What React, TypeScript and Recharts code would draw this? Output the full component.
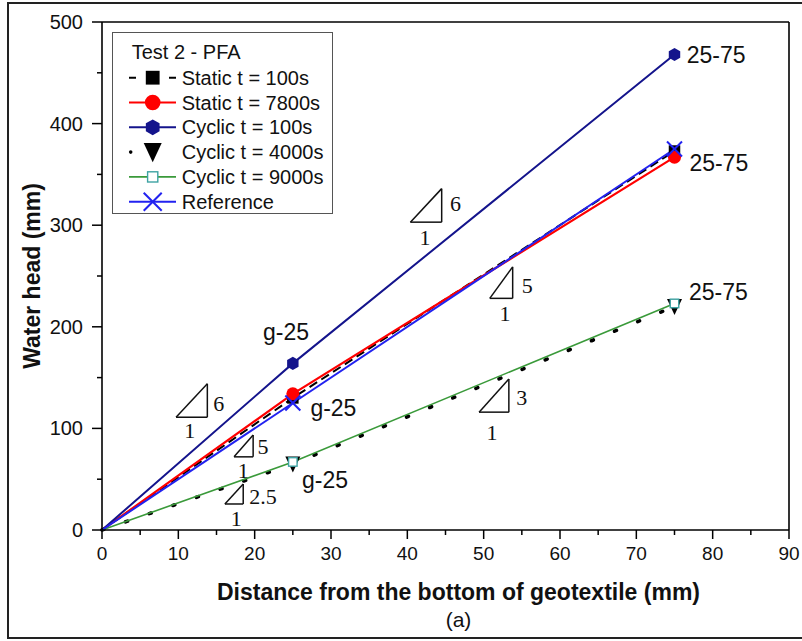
import React from "react";
import {
  LineChart,
  Line,
  XAxis,
  YAxis,
  Legend,
  ReferenceLine,
  ReferenceDot,
} from "recharts";

// distance from bottom of geotextile (mm)
const distance = [0, 25, 75];
// water head (mm)
const staticT100 = [0, 130, 373];
const staticT7800 = [0, 134, 367];
const cyclicT100 = [0, 164, 468];
const cyclicT4000 = [0, 65, 220];
const cyclicT9000 = [0, 67, 223];
const referenceLine = [0, 125, 375];

const xTicks = [0, 5, 10, 15, 20, 25, 30, 35, 40, 45, 50, 55, 60, 65, 70, 75, 80, 85, 90];
const yTicks = [0, 50, 100, 150, 200, 250, 300, 350, 400, 450, 500];

const SANS = "'Liberation Sans', Arial, sans-serif";
const SERIF = "'Liberation Serif', 'Times New Roman', serif";

const data = distance.map((d, i) => ({
  d,
  s100: staticT100[i],
  s7800: staticT7800[i],
  c100: cyclicT100[i],
  c4000: cyclicT4000[i],
  c9000: cyclicT9000[i],
  ref: referenceLine[i],
}));

type MarkerType = "square" | "circle" | "hexagon" | "triangleDown" | "openSquare" | "cross";

const series: {
  key: string;
  name: string;
  color: string;
  width: number;
  dash?: string;
  marker: MarkerType;
}[] = [
  { key: "s100", name: "Static t = 100s", color: "#000", width: 2, dash: "9 5", marker: "square" },
  { key: "s7800", name: "Static t = 7800s", color: "#ff0000", width: 2.2, marker: "circle" },
  { key: "c100", name: "Cyclic t = 100s", color: "#14148c", width: 2, marker: "hexagon" },
  { key: "c4000", name: "Cyclic t = 4000s", color: "#000", width: 3.6, dash: "2 23", marker: "triangleDown" },
  { key: "c9000", name: "Cyclic t = 9000s", color: "#3a9a3a", width: 1.6, marker: "openSquare" },
  { key: "ref", name: "Reference", color: "#2222f0", width: 2, marker: "cross" },
];

// slope triangles, in data units
const slopeMarks = [
  { x0: 9.7, x1: 13.8, y0: 111, y1: 144, rise: "6", rx: 15.3, ry: 125, ux: 11.5, uy: 98 },
  { x0: 17.3, x1: 19.8, y0: 72, y1: 93.5, rise: "5", rx: 21.1, ry: 82, ux: 18.5, uy: 59 },
  { x0: 16.1, x1: 18.5, y0: 25.6, y1: 45.3, rise: "2.5", rx: 21.1, ry: 33, ux: 17.6, uy: 11.5 },
  { x0: 40.4, x1: 44.5, y0: 303, y1: 336, rise: "6", rx: 46.3, ry: 322, ux: 42.3, uy: 288 },
  { x0: 50.8, x1: 53.8, y0: 228, y1: 259, rise: "5", rx: 55.7, ry: 241, ux: 52.8, uy: 213.5 },
  { x0: 49.4, x1: 53.3, y0: 116, y1: 148.6, rise: "3", rx: 55, ry: 131, ux: 51.1, uy: 96.5 },
];

const pointLabels = [
  { x: 21.1, y: 195, text: "g-25" },
  { x: 27.3, y: 120, text: "g-25" },
  { x: 26.2, y: 49, text: "g-25" },
  { x: 76.6, y: 467.5, text: "25-75" },
  { x: 76.95, y: 361, text: "25-75" },
  { x: 76.9, y: 234.5, text: "25-75" },
];

function Marker({ type, cx, cy, k = 1 }: { type: MarkerType; cx: number; cy: number; k?: number }) {
  switch (type) {
    case "square": {
      const s = 11.5 * k;
      return <rect x={cx - s / 2} y={cy - s / 2} width={s} height={s} fill="#000" />;
    }
    case "circle":
      return <circle cx={cx} cy={cy} r={6.5 * k} fill="#ff0000" />;
    case "hexagon": {
      const r = 6.6 * k;
      const pts = [0, 1, 2, 3, 4, 5]
        .map((i) => {
          const a = (Math.PI / 3) * i + Math.PI / 2;
          return `${cx + r * Math.cos(a)},${cy + r * Math.sin(a)}`;
        })
        .join(" ");
      return <polygon points={pts} fill="#14148c" />;
    }
    case "triangleDown": {
      const w = 7.5 * k;
      return (
        <polygon
          points={`${cx - w},${cy - 7.5 * k} ${cx + w},${cy - 7.5 * k} ${cx},${cy + 8.5 * k}`}
          fill="#000"
        />
      );
    }
    case "openSquare": {
      const s = 8.5 * k;
      return (
        <rect x={cx - s / 2} y={cy - s / 2} width={s} height={s} fill="#fff" stroke="#3ea3a3" strokeWidth={1.4} />
      );
    }
    case "cross": {
      const h = 7.5 * k;
      return (
        <g stroke="#2222f0" strokeWidth={2}>
          <line x1={cx - h} y1={cy - h} x2={cx + h} y2={cy + h} />
          <line x1={cx - h} y1={cy + h} x2={cx + h} y2={cy - h} />
        </g>
      );
    }
  }
  return null;
}

const makeDot = (type: MarkerType) => (p: any) => {
  if (p.index === 0 || p.cx == null) return <g key={`e-${p.index}`} />;
  return (
    <g key={`m-${p.index}`}>
      <Marker type={type} cx={p.cx} cy={p.cy} />
    </g>
  );
};

const XTick = (p: any) => {
  const major = p.payload.value % 10 === 0;
  return (
    <g>
      <line x1={p.x} x2={p.x} y1={p.y} y2={p.y + (major ? 9 : 5)} stroke="#000" strokeWidth={1.5} />
      {major && (
        <text x={p.x} y={p.y + 23} dy="0.35em" textAnchor="middle" fontSize={19} fontFamily={SANS} fill="#111">
          {p.payload.value}
        </text>
      )}
    </g>
  );
};

const YTick = (p: any) => {
  const major = p.payload.value % 100 === 0;
  return (
    <g>
      <line x1={p.x - (major ? 10 : 5)} x2={p.x} y1={p.y} y2={p.y} stroke="#000" strokeWidth={1.5} />
      {major && (
        <text x={p.x - 19} y={p.y} dy="0.35em" textAnchor="end" fontSize={20} fontFamily={SANS} fill="#111">
          {p.payload.value}
        </text>
      )}
    </g>
  );
};

const LegendBox = () => (
  <div
    style={{
      width: 221,
      height: 182,
      border: "1px solid #555",
      boxSizing: "border-box",
      background: "#fff",
    }}
  >
    <svg width={219} height={180} style={{ display: "block" }}>
      <text x={18.7} y={19} dy="0.35em" fontSize={20} fontFamily={SANS} fill="#111">
        Test 2 - PFA
      </text>
      {series.map((s, i) => {
        const y = 44.7 + i * 24.8;
        return (
          <g key={s.key}>
            {s.key === "s100" && (
              <line x1={16} x2={63} y1={y} y2={y} stroke="#000" strokeWidth={2} strokeDasharray="7 33 7" />
            )}
            {s.key === "c4000" && <circle cx={17.7} cy={y} r={1.8} fill="#000" />}
            {s.key !== "s100" && s.key !== "c4000" && (
              <line x1={16} x2={63} y1={y} y2={y} stroke={s.color} strokeWidth={s.width} />
            )}
            <Marker type={s.marker} cx={39.7} cy={y} k={1.2} />
            <text x={68.7} y={y} dy="0.35em" fontSize={20} fontFamily={SANS} fill="#111">
              {s.name}
            </text>
          </g>
        );
      })}
    </svg>
  </div>
);

const textShape = (txt: string, font: string, size: number, anchor: "start" | "middle") => (p: any) =>
  (
    <text x={p.cx} y={p.cy} dy="0.35em" textAnchor={anchor} fontSize={size} fontFamily={font} fill="#111">
      {txt}
    </text>
  );

export default function App() {
  return (
    <div style={{ position: "absolute", left: 0, top: 0, width: 802, height: 641, background: "#fff" }}>
      <div
        style={{
          position: "absolute",
          left: 7,
          top: 2,
          width: 795,
          height: 637,
          borderLeft: "2px solid #222",
          borderTop: "2px solid #222",
          borderBottom: "2px solid #222",
          boxSizing: "border-box",
        }}
      />
      <div style={{ position: "absolute", left: 0, top: 0 }}>
        <LineChart width={802} height={641} data={data} margin={{ top: 22, right: 13, bottom: 81, left: 0 }}>
          <XAxis
            dataKey="d"
            type="number"
            domain={[0, 90]}
            ticks={xTicks}
            interval={0}
            height={30}
            tickSize={0}
            tickMargin={0}
            tickLine={false}
            axisLine={{ stroke: "#000", strokeWidth: 1.6 }}
            tick={<XTick />}
            label={{
              content: ({ viewBox }: any) => (
                <g fontFamily={SANS} fill="#111" textAnchor="middle">
                  <text x={viewBox.x + viewBox.width / 2 + 13} y={592} dy="0.35em" fontSize={23} fontWeight="bold">
                    Distance from the bottom of geotextile (mm)
                  </text>
                  <text x={viewBox.x + viewBox.width / 2 + 13} y={620} dy="0.35em" fontSize={21}>
                    (a)
                  </text>
                </g>
              ),
            }}
          />
          <YAxis
            type="number"
            domain={[0, 500]}
            ticks={yTicks}
            interval={0}
            width={102}
            tickSize={0}
            tickMargin={0}
            tickLine={false}
            axisLine={{ stroke: "#000", strokeWidth: 1.6 }}
            tick={<YTick />}
            label={{
              content: ({ viewBox }: any) => (
                <text
                  x={32}
                  y={viewBox.y + viewBox.height / 2}
                  transform={`rotate(-90 32 ${viewBox.y + viewBox.height / 2})`}
                  dy="0.35em"
                  textAnchor="middle"
                  fontSize={23}
                  fontWeight="bold"
                  fontFamily={SANS}
                  fill="#111"
                >
                  Water head (mm)
                </text>
              ),
            }}
          />
          <ReferenceLine y={500} stroke="#000" strokeWidth={1.6} />
          <ReferenceLine x={90} stroke="#000" strokeWidth={1.6} />

          {slopeMarks.map((m, i) => (
            <ReferenceLine
              key={`h${i}`}
              segment={[
                { x: m.x0, y: m.y0 },
                { x: m.x1, y: m.y0 },
              ]}
              stroke="#111"
              strokeWidth={1.5}
            />
          ))}
          {slopeMarks.map((m, i) => (
            <ReferenceLine
              key={`v${i}`}
              segment={[
                { x: m.x1, y: m.y0 },
                { x: m.x1, y: m.y1 },
              ]}
              stroke="#111"
              strokeWidth={1.5}
            />
          ))}
          {slopeMarks.map((m, i) => (
            <ReferenceLine
              key={`d${i}`}
              segment={[
                { x: m.x0, y: m.y0 },
                { x: m.x1, y: m.y1 },
              ]}
              stroke="#111"
              strokeWidth={1.5}
            />
          ))}
          {slopeMarks.map((m, i) => (
            <ReferenceDot key={`r${i}`} x={m.rx} y={m.ry} r={0} shape={textShape(m.rise, SERIF, 22, "middle")} />
          ))}
          {slopeMarks.map((m, i) => (
            <ReferenceDot key={`u${i}`} x={m.ux} y={m.uy} r={0} shape={textShape("1", SERIF, 22, "middle")} />
          ))}
          {pointLabels.map((l, i) => (
            <ReferenceDot key={`p${i}`} x={l.x} y={l.y} r={0} shape={textShape(l.text, SANS, 23, "start")} />
          ))}

          {series.map((s) => (
            <Line
              key={s.key}
              type="linear"
              dataKey={s.key}
              name={s.name}
              stroke={s.color}
              strokeWidth={s.width}
              strokeDasharray={s.dash}
              strokeLinecap={s.key === "c4000" ? "round" : "butt"}
              dot={makeDot(s.marker)}
              activeDot={false}
              isAnimationActive={false}
            />
          ))}

          <Legend
            layout="vertical"
            align="center"
            verticalAlign="middle"
            content={<LegendBox />}
            wrapperStyle={{ left: 112, top: 32, width: 221, height: 182 }}
          />
        </LineChart>
      </div>
    </div>
  );
}
